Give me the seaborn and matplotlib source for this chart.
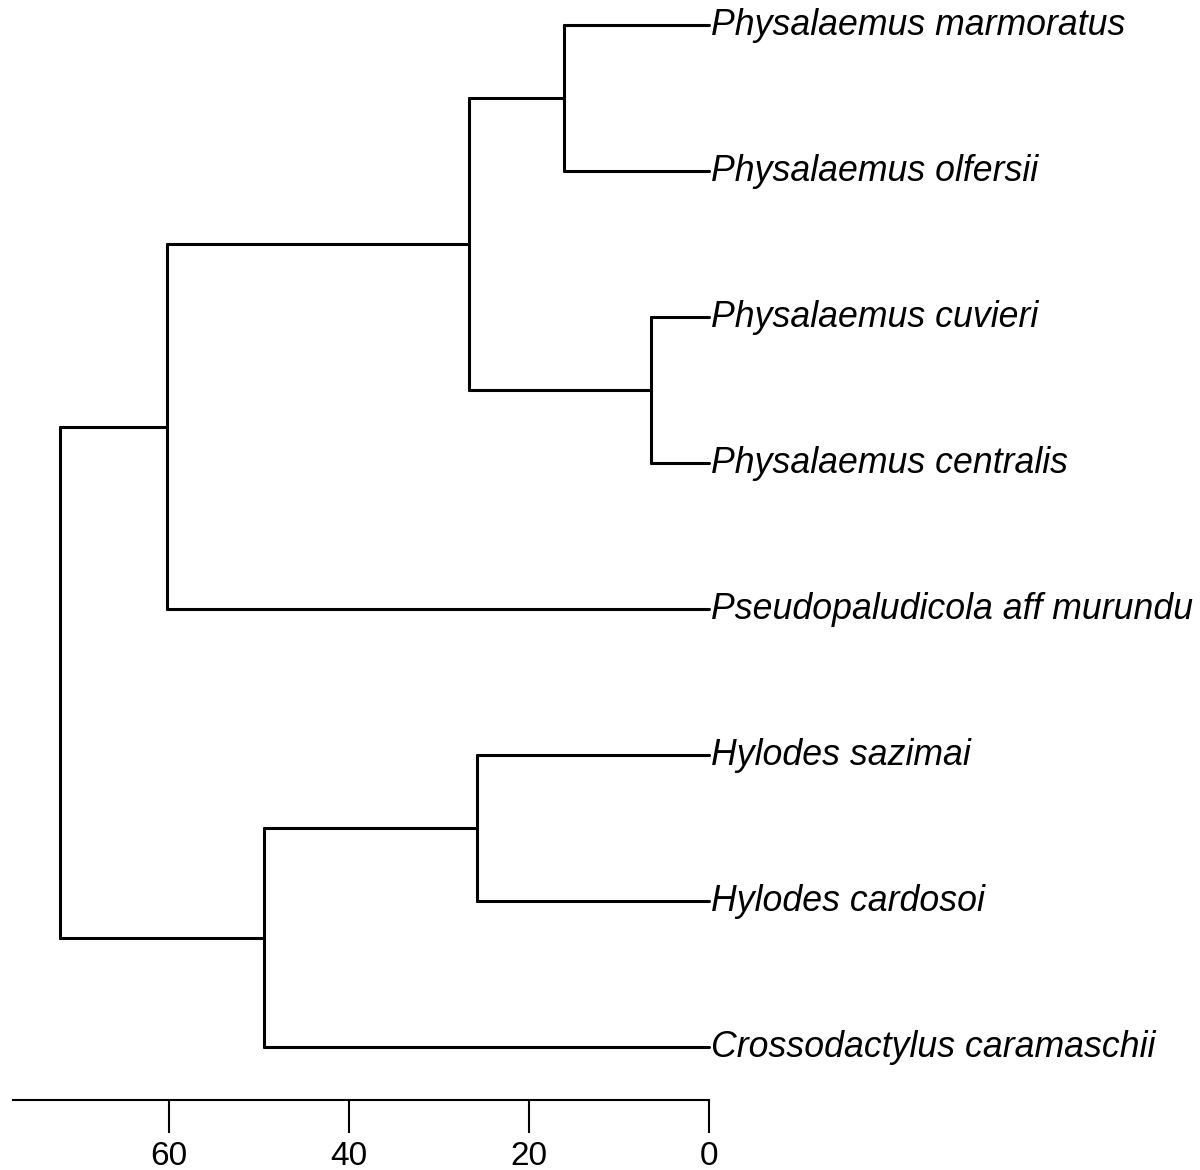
import matplotlib
matplotlib.use("Agg")
import matplotlib.pyplot as plt
import pandas as pd
import seaborn as sns

sns.set_style("white")
plt.rcParams['font.family'] = ['Liberation Sans', 'DejaVu Sans']

# tips, top to bottom
tip_names = [
    "Physalaemus marmoratus",
    "Physalaemus olfersii",
    "Physalaemus cuvieri",
    "Physalaemus centralis",
    "Pseudopaludicola aff murundu",
    "Hylodes sazimai",
    "Hylodes cardosoi",
    "Crossodactylus caramaschii",
]
tip_parent = ["n_mo", "n_mo", "n_cc", "n_cc", "n_pp", "n_hyl", "n_hyl", "n_hc"]

# internal nodes (age in Ma)
node_names = ["root", "n_pp", "n_phys", "n_mo", "n_cc", "n_hc", "n_hyl"]
node_ages = [72.1, 60.2, 26.7, 16.1, 6.45, 49.4, 25.8]
node_parent = [None, "root", "n_pp", "n_phys", "n_phys", "root", "n_hc"]

axis_ticks = [60, 40, 20, 0]
axis_start = 77.3

# build tree
age = dict(zip(node_names, node_ages))
ypos = {}
children = {n: [] for n in node_names}
for i, (t, p) in enumerate(zip(tip_names, tip_parent)):
    age[t] = 0.0
    ypos[t] = i
    children[p].append(t)
for n, p in zip(node_names, node_parent):
    if p is not None:
        children[p].append(n)


def get_y(n):
    if n not in ypos:
        ys = [get_y(c) for c in children[n]]
        ypos[n] = (min(ys) + max(ys)) / 2
    return ypos[n]


get_y("root")

rows = []
seg = 0
for n in node_names:
    kids = children[n]
    ys = [ypos[c] for c in kids]
    # vertical bar
    rows.append((seg, age[n], min(ys)))
    rows.append((seg, age[n], max(ys)))
    seg += 1
    for c in kids:
        rows.append((seg, age[n], ypos[c]))
        rows.append((seg, age[c], ypos[c]))
        seg += 1
df = pd.DataFrame(rows, columns=["seg", "x", "y"])

fig = plt.figure(figsize=(12, 11.7), dpi=100)
ax = fig.add_axes([0, 0, 1, 1])

sns.lineplot(data=df, x="x", y="y", units="seg", estimator=None, sort=False,
             color="black", linewidth=2.2, ax=ax, legend=False)

for t in tip_names:
    ax.text(-0.2, ypos[t] + 0.07, t, ha="left", va="baseline",
            fontsize=25.7, style="italic", color="black")

ax.set_xlim(709 / 9, (709 - 1200) / 9)
ax.set_ylim(1145 / 146, -25 / 146)

for s in ["left", "top", "right"]:
    ax.spines[s].set_visible(False)
ax.spines["bottom"].set_position(("data", 1075 / 146))
ax.spines["bottom"].set_bounds(axis_start, 0)
ax.spines["bottom"].set_linewidth(1.5)
ax.spines["bottom"].set_color("black")

ax.set_xticks(axis_ticks)
ax.set_xticklabels([str(v) for v in axis_ticks])
ax.set_yticks([])
ax.tick_params(axis="x", direction="out", length=24, width=1.5, pad=5.5,
               labelsize=24, colors="black", bottom=True)
ax.set_xlabel("")
ax.set_ylabel("")

fig.savefig("out.png", dpi=100)
